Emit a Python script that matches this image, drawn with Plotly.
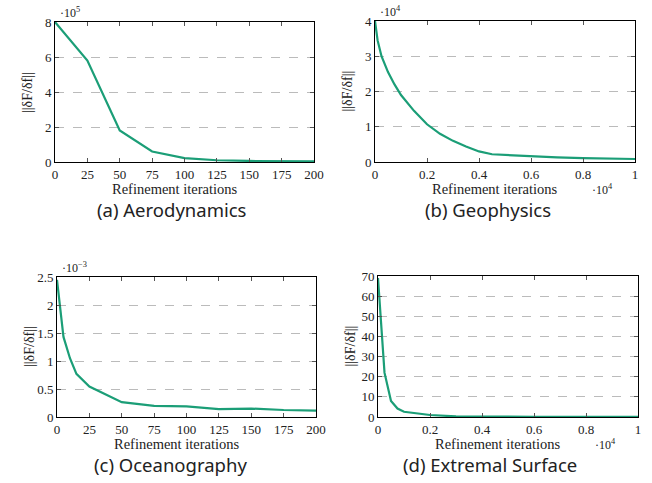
import plotly.graph_objects as go

# ---- data ----
aero_x = [0, 25, 50, 75, 100, 125, 150, 175, 200]
aero_y = [8.0e5, 5.8e5, 1.8e5, 0.6e5, 0.22e5, 0.1e5, 0.06e5, 0.04e5, 0.03e5]

geo_x = [0, 100, 250, 500, 750, 1000, 1500, 2000, 2500, 3000, 3500, 4000, 4500,
         5000, 6000, 7000, 8000, 9000, 10000]
geo_y = [4.0e4, 3.45e4, 3.0e4, 2.55e4, 2.2e4, 1.9e4, 1.45e4, 1.07e4, 0.8e4, 0.6e4,
         0.44e4, 0.3e4, 0.22e4, 0.2e4, 0.16e4, 0.13e4, 0.11e4, 0.095e4, 0.085e4]

ocean_x = [0, 5, 10, 15, 25, 50, 75, 100, 125, 150, 175, 200]
ocean_y = [2.45e-3, 1.43e-3, 1.05e-3, 0.77e-3, 0.545e-3, 0.265e-3, 0.2e-3, 0.19e-3,
           0.14e-3, 0.15e-3, 0.125e-3, 0.115e-3]

ext_x = [0, 250, 500, 750, 1000, 1500, 2000, 3000, 4000, 5000, 6000, 8000, 10000]
ext_y = [69, 22, 8, 4.2, 2.6, 1.8, 1.0, 0.3, 0.15, 0.1, 0.08, 0.05, 0.04]

captions = ["(a) Aerodynamics", "(b) Geophysics", "(c) Oceanography", "(d) Extremal Surface"]
x_label = "Refinement iterations"
y_label = "||δF/δf||"

iter_ticks = [0, 25, 50, 75, 100, 125, 150, 175, 200]
frac_ticks = [0, 2000, 4000, 6000, 8000, 10000]
frac_text = ["0", "0.2", "0.4", "0.6", "0.8", "1"]

GREEN = "#1b9e77"
SERIF = "Liberation Serif, DejaVu Serif, serif"
SANS = "Noto Sans, Open Sans, sans-serif"

panels = [
    dict(x=aero_x, y=aero_y, yscale=1e5, ymax=8, ystep=2, xt=iter_ticks, xtt=[str(v) for v in iter_ticks],
         xmax=200, xd=[55, 314], yd=[22, 162], ysc="·10<sup>5</sup>", xsc=None, cx=172, cy=209),
    dict(x=geo_x, y=geo_y, yscale=1e4, ymax=4, ystep=1, xt=frac_ticks, xtt=frac_text,
         xmax=10000, xd=[375, 635], yd=[21, 162], ysc="·10<sup>4</sup>", xsc="·10<sup>4</sup>", cx=488, cy=209),
    dict(x=ocean_x, y=ocean_y, yscale=1e-3, ymax=2.5, ystep=0.5, xt=iter_ticks, xtt=[str(v) for v in iter_ticks],
         xmax=200, xd=[57, 316], yd=[277, 417], ysc="·10<sup>−3</sup>", xsc=None, cx=170, cy=464),
    dict(x=ext_x, y=ext_y, yscale=1, ymax=70, ystep=10, xt=frac_ticks, xtt=frac_text,
         xmax=10000, xd=[378, 638], yd=[276, 417], ysc=None, xsc="·10<sup>4</sup>", cx=490, cy=464),
]

W, H = 652, 483
fig = go.Figure()
annotations = []
layout = {}
for i, p in enumerate(panels):
    n = "" if i == 0 else str(i + 1)
    ys = [v / p["yscale"] for v in p["y"]]
    fig.add_trace(go.Scatter(x=p["x"], y=ys, mode="lines", line=dict(color=GREEN, width=2.2),
                             xaxis="x" + n, yaxis="y" + n, showlegend=False, hoverinfo="skip",
                             cliponaxis=False))
    x0, x1 = p["xd"][0] / W, p["xd"][1] / W
    y0, y1 = 1 - p["yd"][1] / H, 1 - p["yd"][0] / H
    nt = int(round(p["ymax"] / p["ystep"]))
    yt = [round(k * p["ystep"], 3) for k in range(nt + 1)]
    ytt = [("%g" % v) for v in yt]
    layout["xaxis" + n] = dict(domain=[x0, x1], anchor="y" + n, range=[0, p["xmax"]],
                               tickvals=p["xt"], ticktext=p["xtt"], ticks="inside", ticklen=4,
                               tickcolor="#555", showline=True, linecolor="black", linewidth=1,
                               mirror="allticks", showgrid=False, zeroline=False, automargin=False,
                               tickfont=dict(family=SERIF, size=13, color="#222"))
    layout["yaxis" + n] = dict(domain=[y0, y1], anchor="x" + n, range=[0, p["ymax"]],
                               tickvals=yt, ticktext=ytt, ticks="inside", ticklen=4,
                               tickcolor="#555", showline=True, linecolor="black", linewidth=1,
                               mirror="allticks", showgrid=True, gridcolor="#bbbbbb",
                               griddash="dash", gridwidth=1, zeroline=False, automargin=False,
                               tickfont=dict(family=SERIF, size=13, color="#222"))
    # x label
    annotations.append(dict(text=x_label, xref="paper", yref="paper",
                            x=(p["xd"][0] + p["xd"][1]) / 2 / W - 0.015, y=y0 - 27 / H,
                            xanchor="center", yanchor="middle", showarrow=False,
                            font=dict(family=SERIF, size=14.5, color="#222")))
    # y label
    annotations.append(dict(text=y_label, xref="paper", yref="paper",
                            x=(p["xd"][0] - 28) / W, y=(y0 + y1) / 2, textangle=-90,
                            showarrow=False, font=dict(family=SERIF, size=14, color="#222"),
                            xanchor="center", yanchor="middle"))
    if p["ysc"]:
        annotations.append(dict(text=p["ysc"], xref="paper", yref="paper",
                                x=(p["xd"][0] + 3) / W, y=y1, xanchor="left", yanchor="bottom",
                                showarrow=False, font=dict(family=SERIF, size=12, color="#222")))
    if p["xsc"]:
        annotations.append(dict(text=p["xsc"], xref="paper", yref="paper",
                                x=(p["xd"][1] - 33) / W, y=y0 - 18 / H, xanchor="center", yanchor="top",
                                showarrow=False, font=dict(family=SERIF, size=12, color="#222")))
    # caption
    annotations.append(dict(text=captions[i], xref="paper", yref="paper",
                            x=p["cx"] / W, y=1 - p["cy"] / H,
                            xanchor="center", yanchor="middle", showarrow=False,
                            font=dict(family=SANS, size=18.5, color="#222")))

fig.update_layout(width=W, height=H, margin=dict(l=0, r=0, t=0, b=0, autoexpand=False),
                  paper_bgcolor="white", plot_bgcolor="white", annotations=annotations, **layout)
fig.write_html("out.html", config={"displayModeBar": False},
               post_script="document.body.style.margin='0';document.body.style.overflow='hidden';")
